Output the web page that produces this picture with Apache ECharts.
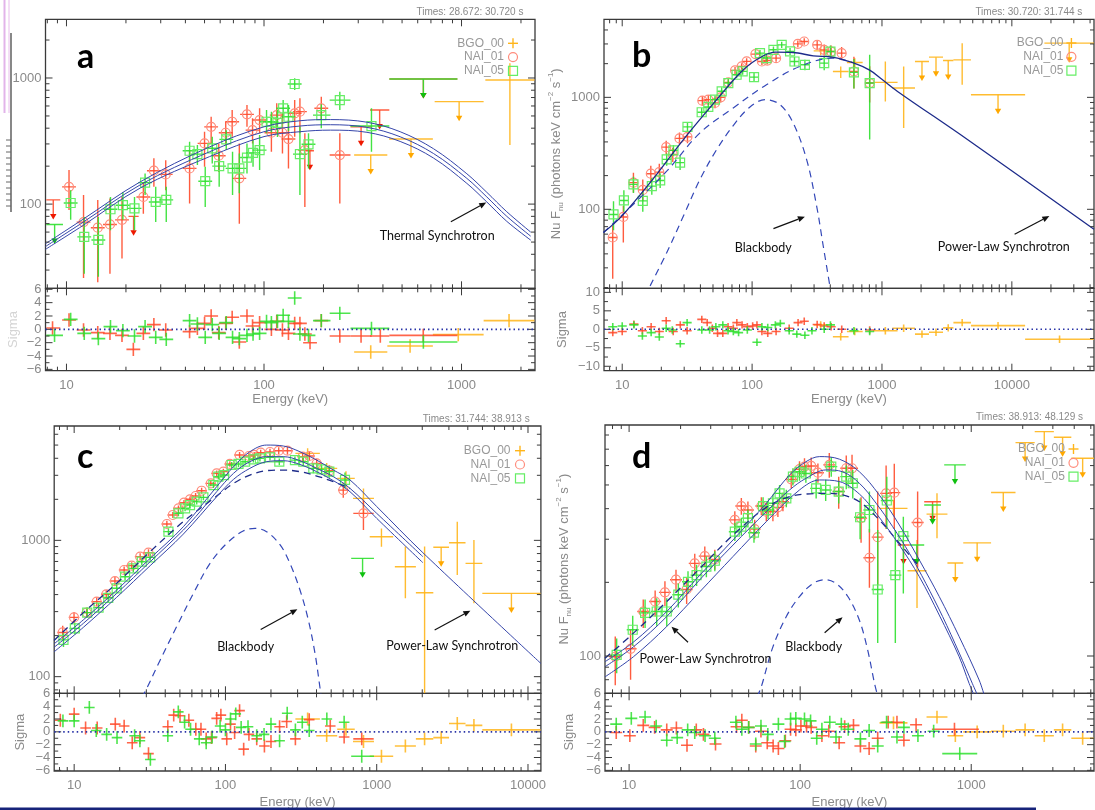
<!DOCTYPE html>
<html><head><meta charset="utf-8">
<script src="https://cdn.jsdelivr.net/npm/echarts@6/dist/echarts.min.js"></script>
<style>html,body{margin:0;padding:0;background:#fff}#c{width:1095px;height:810px}</style>
</head><body><div id="c"></div>
<script>
// ================= DATA =================
// NaI points: [E keV, NuFnu, lower, upper, (Elo, Ehi)]; BGO points: [Elo, Ehi, NuFnu, lower, upper]
// upper limits: [Elo, Ehi, NuFnu]; residuals NaI: [E, sigma, (Elo, Ehi)]; residuals BGO: [Elo, Ehi, sigma]
const NAI_BIN_HALF_DEX = 0.035;
const LEGEND_LABELS = ['BGO_00', 'NAI_01', 'NAI_05'];
const RES_LABELS_6 = [-6, -4, -2, 0, 2, 4, 6];
const RES_LABELS_10 = [-10, -5, 0, 5, 10];

// ---- panel a ----
const A_TIMES = 'Times: 28.672: 30.720 s';
const A_N01 = [[10.3,137,90,186],[12.2,72,26,118],[14.4,65,24,108],[16.6,69,28,111],[19.1,75,37,114],[24.5,114,84,150],[27.7,184,137,231],[31.8,172,129,223],[42,192,101,268],[50,303,198,375],[54,410,303,493],[59,242,180,303],[64,368,294,450],[69,450,342,557],[75,160,70,303],[82,515,410,611],[87.5,386,303,479],[95,464,364,575],[109,368,260,493],[116,508,386,631],[124,368,252,525],[133,328,192,464],[143,525,342,668],[152,541,364,690],[161,268,95,364],[195,575,464,711],[242,245,101,364,215,274]];
const A_N01_UL = [[7.9,9.3,108],[20.6,23.2,80],[163,179,265],[274,351,410],[344,431,557],[431,953,982]];
const A_N05 = [[10.5,102,75,129],[12.3,55,28,79],[14.5,52,26.5,79],[16.7,91,62,114],[19.3,98,75,125],[22.1,92.5,62,114],[25,148,118,175],[28.3,104,72,137],[32,108,72,137],[42,265,217,312],[46,249,204,294],[50.4,152,95,198],[54.7,277,210,342],[59.3,200,137,260],[64.4,326,268,386],[69.3,192,118,260],[75,192,122,252],[82,234,175,303],[88,255,198,322],[95,268,186,353],[103,450,364,557],[109,450,370,540],[117,441,340,560],[125,575,479,668],[133,493,380,610],[143,896,803,994],[152,249,118,410],[168,298,192,364],[195,508,400,620,177,217],[242,668,557,778,215,274],[350,416,260,575,274,431]];
const A_N05_UL = [[7.9,9.6,69],[431,953,982]];
const A_BGO = [[1320,2340,964,294,1310]];
const A_BGO_UL = [[286,421,245],[430,716,328],[731,1294,649]];
const A_R01 = [[8.5,0.2,7.9,9.3],[10.3,1.4],[12.2,-0.1],[14.4,-0.5],[16.6,-0.6],[19.1,-0.9],[21.8,-3.0],[24.5,-0.6],[27.7,0.7],[31.8,-0.1],[42,-0.35],[46,0.15],[50,0.9],[54,2.0],[59,-0.5],[64,0.9],[69,1.8],[75,-1.9],[82,2.0],[87.5,0.5],[95,1.0],[109,0],[116,1.2],[124,-0.1],[133,-0.6],[143,0.9],[152,0.9],[161,-0.7],[171,-2.0],[195,1.3],[242,-1.0,215,274],[310,-1.0,274,351],[388,-1.0,344,431],[640,-0.9,431,953]];
const A_R05 = [[8.7,-0.9,7.9,9.6],[10.5,1.5],[12.3,-0.6],[14.5,-1.4],[16.7,0.4],[19.3,-0.2],[22.1,-1.0],[25,0.4],[28.3,-1.2],[32,-1.5],[42,1.3],[46,0.8],[50.4,-1.2],[54.7,0.7],[59.3,-0.6],[64.4,1.0],[69.3,-1.2],[75,-1.4],[82,-0.9],[88,-0.7],[95,-0.6],[103,1.2],[109,1.0],[117,1.2],[125,2.1],[133,1.2],[143,4.7],[152,-0.7],[168,-0.9],[195,1.3,177,217],[242,2.4,215,274],[350,0.15,274,431],[641,-1.9,431,953]];
const A_RBGO = [[286,421,-3.4],[421,716,-2.5],[716,1294,-0.8],[1294,2340,1.3]];
const A_MODEL_UP = [[7.83,48.5],[12,75],[23.6,150],[53,284],[100,410],[152,458],[217,468],[332,446],[489,375],[721,275],[1064,174],[1343,124],[1695,87],[2240,60]];
const A_MODEL_MID = [[7.83,46.1],[12,71],[23.6,142],[53,260],[100,375],[152,416],[217,426],[332,406],[489,342],[721,252],[1064,160],[1343,114],[1695,80],[2240,55.7]];
const A_MODEL_LO = [[7.83,43.8],[12,67],[23.6,134],[53,238],[100,343],[152,375],[217,386],[332,371],[489,314],[721,232],[1064,146],[1343,104],[1695,73],[2240,51.8]];
const A_ANNOT = [{t:'Thermal Synchrotron', at:[753,55.7], from:[883,72.4], to:[1334,103]}];

// ---- panel b ----
const B_TIMES = 'Times: 30.720: 31.744 s';
const B_N01 = [[8.45,56,24,71],[10.2,85.5,50.6,107],[12.2,173,141,212],[14.4,149,119,185],[16.6,208,172,245],[19.3,215,180,255],[21.8,359,310,410],[24.5,309,265,355],[27.6,430,380,485],[31.8,444,390,500],[41.4,935,840,1030],[46,955,860,1050],[51.8,892,800,990],[57.3,1000,900,1100],[65.6,1361,1250,1480],[73.9,1742,1620,1870],[83.1,1891,1760,2020],[90.8,2094,1950,2240],[106,2434,2280,2590],[119,2091,1950,2240],[131,2133,1980,2290],[153,2239,2080,2400],[225,3005,2800,3220],[252,3155,2950,3370],[317,2946,2650,3250],[359,2656,2350,2970],[406,2566,2250,2900],[489,2483,2150,2820],[608,1702,1200,2300],[804,1342,900,1900]];
const B_N01_UL = [];
const B_N05 = [[8.57,90,65,118],[10.3,120,95,148],[12.2,167,140,195],[14.4,119,95,145],[16.9,161,135,190],[19.6,181,155,210],[22,279,245,315],[24.8,336,300,375],[27.9,261,225,300],[31.8,545,490,600],[40.9,736,670,805],[46,821,750,895],[51.8,955,875,1040],[58.3,1133,1040,1230],[65.6,1342,1240,1450],[76,1592,1480,1710],[84.6,1706,1590,1830],[103.5,1517,1390,1650],[115,2483,2320,2650],[129,2244,2090,2400],[146,2660,2490,2840],[169,2946,2760,3140],[196,2570,2390,2760],[212,2091,1900,2290],[255,1954,1750,2170],[359,2022,1750,2310],[401,2566,2250,2900],[608,1671,1200,2200],[804,1342,420,2400]];
const B_N05_UL = [];
const B_BGO = [[298,382,2600,2380,2820],[419,553,1702,1486,1888],[537,710,2051,1870,2230],[855,1318,1362,920,2089],[1202,1795,1211,533,1888],[3548,4842,2163,1297,3048]];
const B_BGO_UL = [[1795,2301,2090],[2301,2951,2286],[2951,3548,2133],[4842,12650,1056],[17800,42900,3048]];
const B_R01 = [[8.46,-0.9],[10,-0.6],[12.3,1.4],[14.3,-0.4],[16.7,0.7],[19.3,-0.6],[21.8,2.3],[24.7,-0.6],[28,1.2],[31.6,-0.4],[41,2.7],[45.1,1.8],[49.4,0.3],[54.2,-1.1],[59.5,-1.1],[65.3,0.7],[71.7,0.3],[76.3,1.8],[83.7,1.2],[91.9,0.7],[101,0.9],[109,1.2],[119,-0.6],[132,-1.1],[153,-0.6],[193,0.3],[226,1.8],[252,2.2],[317,1.3],[359,0.9],[406,0.7],[490,0],[804,-0.2]];
const B_R05 = [[8.46,0.7],[10,0.9],[12.3,1.2],[14.3,-1.8],[16.7,-0.9],[19.3,-2.1],[21.8,0.3],[24.3,-0.2],[28,-3.9],[31.6,1.8],[41,-0.2],[47.1,-0.2],[52.6,0.7],[59.5,1.2],[65.3,-0.4],[71.7,-0.6],[78.7,-0.9],[91.9,-0.2],[109,-3.5],[119,0.7],[132,0.5],[151,1.2],[165,1.6],[193,-0.4],[221,-1.3],[255,-1.6],[289,-0.4],[359,0],[401,1.2],[608,-0.4],[804,-0.6]];
const B_RBGO = [[298,382,1.2],[419,553,-2.0],[537,710,-0.6],[855,1318,-0.4],[1202,1795,0.3],[1795,2301,-1.3],[2301,2951,-0.8],[2951,3548,0.4],[3548,4842,1.8],[4842,12650,1.0],[12650,42900,-2.7]];
const B_MODEL_TOTAL = [[7.17,62],[9.93,87],[16.4,173],[29.6,420],[53.4,954],[80.8,1650],[108,2166],[150,2538],[207,2517],[296,2350],[422,2280],[589,2050],[804,1750],[998,1450],[1318,1130],[4550,420],[42850,66.4]];
const B_MODEL_PL = [[7.17,62],[12.2,111],[22,219],[39.7,482],[71.6,805],[129,1297],[233,1888],[422,2245],[589,2050]];
const B_MODEL_BB = [[16.4,20.7],[22,41],[29.6,87],[39.7,185],[53.4,342],[71.6,560],[96.3,821],[126,954],[164,861],[207,591],[263,278],[314,107],[353,47],[397,20.7]];
const B_ANNOT = [{t:'Blackbody', at:[122,45.6], from:[146,67.3], to:[255,86]},{t:'Power-Law Synchrotron', at:[8670,46.1], from:[10500,59.8], to:[19450,87]}];

// ---- panel c ----
const C_TIMES = 'Times: 31.744: 38.913 s';
const C_N01 = [[8.4,211,188,236],[9.98,272,248,298],[12.1,295,272,320],[14.1,355,330,382],[16.3,402,375,430],[18.6,503,470,538],[21.4,606,570,644],[24,652,615,690],[27.3,759,715,805],[31,812,765,860],[41,1318,1250,1390],[44.9,1535,1460,1615],[48.9,1718,1635,1805],[53.2,1889,1800,1980],[58.3,2000,1900,2100],[63.5,2115,2010,2225],[69.6,2312,2200,2430],[80,2616,2490,2750],[87.5,3099,2950,3250],[96.9,3190,3030,3350],[107,3634,3460,3810],[124,4230,4020,4440],[143,4156,3950,4370],[155,4230,4020,4440],[171,4397,4180,4620],[197,4446,4200,4700],[225,4546,4290,4810],[257,4546,4270,4830],[324,4110,3820,4400],[359,4156,3850,4460],[401,3673,3380,3970],[486,3246,2950,3550],[601,2337,2050,2650],[817,1578,1191,1977,700,955]];
const C_N01_UL = [];
const C_N05 = [[8.5,186,165,208],[10.1,226,204,249],[12.2,295,270,321],[14.5,321,296,347],[16.8,379,352,407],[19.1,445,415,476],[21.7,541,507,576],[24.6,623,585,662],[28,697,656,739],[31.8,750,707,795],[42,1158,1095,1222],[48.9,1579,1500,1660],[54.1,1718,1635,1805],[58.3,1816,1725,1910],[64.6,1923,1830,2020],[71.5,2067,1965,2170],[83.2,2545,2420,2675],[89.8,2931,2790,3075],[97.9,3013,2865,3165],[110,3572,3400,3750],[122,3634,3455,3815],[135,3776,3590,3965],[153,3930,3730,4130],[169,3993,3790,4200],[197,4066,3850,4280],[227,3776,3560,3990],[288,3880,3640,4120],[327,3776,3520,4030],[381,3373,3110,3640],[432,3319,3030,3610],[486,3190,2880,3500],[617,2773,2400,3150]];
const C_N05_UL = [[678,959,738]];
const C_BGO = [[290,421,4346,3990,4730],[398,548,3373,3080,3690],[548,716,2850,2480,3210],[697,959,2032,1578,2404],[899,1285,1064,899,1224],[1318,1815,641,376,900],[1815,2366,413,60,900],[3006,3864,961,557,1371],[3864,4990,678,345,1005]];
const C_BGO_UL = [[2366,3006,889],[4990,12100,408]];
const C_R01 = [[8.1,1.8],[10,2.75],[11.9,0.6],[14.2,0.6],[18.7,1.2],[21.4,0.9],[24.2,-1.7],[27.2,-0.9],[31,-3.4],[41.6,0.8],[45.5,2.6],[50.1,2.5],[57.3,1.8],[63.7,0.4],[68.9,0.4],[74.6,-1.1],[80.9,-0.9],[87.5,2.1],[93.3,2.6],[102,-1.1],[108,1.2],[115,-0.1],[124,3.3],[132,-2.7],[143,-0.4],[161,-1.1],[181,-2.2],[200,-1.5],[228,0.8],[254,1.6],[290,-1.1],[358,1.9],[493,0.9],[609,-0.8],[796,-1.1,700,955]];
const C_R05 = [[8.43,1.7],[10,1.7],[12.6,3.8],[14,0.2],[16.4,-0.4],[19.2,-0.9],[25.1,-0.6],[27.2,-1.4],[31.9,-4.3],[41.6,-0.6],[48.8,3.1],[53.7,1.5],[58.8,0.4],[67.1,-1.1],[74.6,-1.7],[81.7,-0.8],[92.2,0.9],[100,0.3],[108,2.0],[117,2.8],[127,0.7],[141,0.8],[161,-0.6],[180,-0.4],[200,1.2],[228,-1.4],[256,2.9],[290,0.3],[322,1.5],[358,0.2],[468,2.0],[609,1.5],[796,-3.8,678,959]];
const C_RBGO = [[290,421,2.0],[398,548,-0.6],[548,716,0.4],[697,959,-1.5],[899,1285,-3.8],[1318,1815,-2.2],[1815,2366,-1.1],[2366,3006,-0.9],[3006,3864,1.3],[3864,4990,1.0],[4990,12100,0.3]];
const C_MODEL_UP = [[7.36,174],[11.5,261],[19.1,432],[31.8,738],[52.7,1259],[87.5,2476],[113,3470],[145,4467],[187,5000],[242,4920],[311,4467],[401,3880],[517,3280],[666,2773],[1000,1770],[2018,812],[12170,125]];
const C_MODEL_MID = [[7.36,164],[11.5,246],[19.1,408],[31.8,697],[52.7,1190],[67.9,1622],[87.5,2274],[113,3100],[145,3776],[187,4110],[242,4110],[311,3840],[401,3373],[517,2930],[666,2406],[1000,1578],[2018,759]];
const C_MODEL_LO = [[7.36,152],[11.5,230],[19.1,382],[31.8,652],[52.7,1112],[87.5,2089],[113,2800],[145,3373],[187,3776],[242,3840],[311,3606],[401,3190],[517,2740],[666,2274],[1000,1450],[2018,686]];
const C_MODEL_PL = [[7.36,184],[11.5,295],[19.1,484],[31.8,827],[52.7,1372],[87.5,2113],[113,2616],[145,3013],[187,3246],[242,3280],[311,3190],[401,2965],[517,2693],[666,2406]];
const C_MODEL_BB = [[28,70],[30.2,82],[37,132],[47.6,233],[61.4,408],[79.1,678],[102,950],[131,1170],[157,1225],[187,1158],[230,925],[267,678],[311,432],[353,261],[391,148],[418,89],[430,70]];
const C_ANNOT = [{t:'Blackbody', at:[136,166], from:[171,222], to:[299,312]},{t:'Power-Law Synchrotron', at:[3162,168], from:[2415,220], to:[4160,305]}];

// ---- panel d ----
const D_TIMES = 'Times: 38.913: 48.129 s';
const D_N01 = [[8.3,99.3,76,120],[10.2,107,80,128],[12.1,152,130,170],[14.2,167,145,185],[16.2,182,160,202],[18.8,205,183,225],[21.7,187,163,210],[24.2,239,215,262],[27.7,256,232,280],[31.7,248,225,272],[41.5,360,330,390],[45.3,410,378,442],[49.5,395,362,428],[54.2,330,300,360],[59.3,410,376,445],[63.4,389,355,423],[69.3,389,355,423],[74.1,405,370,440],[79.3,427,390,465],[88.7,527,485,570],[99.1,580,535,625],[106,594,545,643],[116,598,548,648],[127,561,510,612],[148,604,535,675],[168,470,400,540],[186,585,510,660],[201,585,505,665],[227,366,290,445],[254,252,190,330],[284,306,195,470],[318,462,330,600],[355,465,330,610],[486,351,230,470]];
const D_N01_UL = [[372,435,284],[531,665,427]];
const D_N05 = [[8.46,101,85,118],[10.5,128,110,146],[12.4,150,130,170],[14.5,152,133,172],[16.6,152,132,172],[19.4,178,158,198],[22.1,201,180,222],[24.8,214,193,236],[28.3,232,210,255],[31.7,245,222,268],[41.5,322,295,350],[45.3,338,310,367],[49.5,366,335,397],[53.7,319,290,348],[60.7,410,376,445],[64.9,395,362,428],[69.3,421,385,457],[75.8,462,425,500],[83,441,405,478],[90.7,541,498,585],[99.1,566,520,612],[108,557,510,605],[124,484,440,530],[141,477,430,525],[152,594,540,650],[168,470,420,520],[186,541,480,600],[203,508,440,575],[224,369,300,440],[254,395,320,470],[284,187,113,327],[321,432,330,540],[360,214,113,327],[401,309,180,371]];
const D_N05_UL = [[435,531,284],[531,665,414],[695,929,604]];
const D_BGO = [[291,424,401,377,434],[424,548,223,157,298],[548,726,380,303,462]];
const D_BGO_UL = [[726,898,240],[898,1306,290],[1306,1815,466],[1815,2350,745],[2350,3041,826],[3041,3846,783],[3846,5220,643]];
const D_R01 = [[8.41,-0.1],[10.1,-0.6],[12.1,1.0],[14.1,0.7],[16.6,0.3],[18.9,0.6],[21.8,-2.1],[24.7,0.3],[27.2,-0.4],[32,-1.9],[42.5,0.8],[45.6,1.8],[50,0.7],[55,-2.2],[59,0.1],[64.2,-1.7],[69.5,-2.2],[74.6,-2.6],[81.9,-1.4],[87.9,0.4],[94.3,0.3],[101,0.9],[109,0.9],[116,0.7],[134,-0.6],[147,0.1],[169,-1.7],[182,0.8],[205,1.0],[225,-2.2],[253,-2.6],[284,-1.0],[327,1.5],[368,1.5],[404,-1.3],[476,1.1],[798,0.4,589,1109]];
const D_R05 = [[8.41,1.2],[10.3,2.1],[12.4,2.3],[14.4,0.9],[16.6,-1.3],[19.1,-0.9],[22,0.3],[24.2,-0.1],[27.8,-0.6],[31.7,-1.0],[42.1,1.5],[45.6,0.4],[50,0.7],[55,-1.9],[59,0.9],[64.7,-0.4],[74.6,1.2],[81.1,-1.5],[87.9,2.0],[94.3,2.1],[106,2.0],[115,1.7],[125,-1.0],[134,0.4],[149,1.5],[162,-0.8],[174,1.2],[191,0.4],[225,-1.1],[253,0.2],[284,-2.2],[320,1.5],[368,-0.8],[404,0.7],[488,-0.6],[603,0.1],[857,-3.4,677,1084]];
const D_RBGO = [[291,424,1.4],[548,726,2.3],[726,898,-0.6],[898,1306,0],[1306,1815,0.1],[1815,2350,0.3],[2350,3041,-0.6],[3041,3846,0.3],[3846,5220,-1.0]];
const D_MODEL_UP = [[7.23,94.8],[10.6,114],[16.6,152],[25.9,214],[40.5,298],[63.4,421],[86.7,549],[108,622],[130,653],[170,637],[222,566],[290,455],[380,343],[497,247],[650,175],[850,120],[1112,79.8],[1200,68]];
const D_MODEL_MID = [[7.23,90.4],[10.6,109],[16.6,145],[25.9,205],[40.5,284],[63.4,389],[86.7,477],[108,532],[142,576],[177,566],[222,508],[278,421],[347,338],[435,263],[543,198],[680,145],[850,103],[1017,77],[1100,68]];
const D_MODEL_LO = [[7.23,82.2],[10.6,99.3],[16.6,132],[25.9,183],[40.5,255],[63.4,354],[99.1,477],[130,524],[170,516],[222,459],[278,383],[380,284],[497,211],[650,147],[850,99.3],[972,77.3],[1050,68]];
const D_MODEL_PL = [[7.23,97.8],[10.6,124],[16.6,167],[25.9,228],[40.5,312],[63.4,405],[86.7,448],[108,459],[142,462],[177,455],[222,427],[290,360],[380,289],[497,232]];
const D_MODEL_BB = [[56,68],[59.3,75],[69.3,109],[83,145],[99.1,175],[119,198],[139,205],[162,198],[190,175],[222,140],[248,106],[272,77.3],[285,68]];
const D_ANNOT = [{t:'Blackbody', at:[120,109], from:[139,124.5], to:[177,144]},{t:'Power-Law Synchrotron', at:[28,96.9], from:[22.1,113.8], to:[17.7,131.8]}];

// ================= LAYOUT / STYLE =================
const COL = {
  n01Line:'#ff4a2a', n01Mark:'#ff8c7c', n01Tri:'#ee1800',
  n05Line:'#2fe02f', n05Mark:'#66ee66', n05Tri:'#0fc00f',
  bgoLine:'#ffb51a', bgoTri:'#ffa800',
  model:'#3545aa', modelDark:'#1d2b8a', bb:'#3448b8',
  axis:'#3a3a3a', text:'#8a8a8a', zero:'#2a34a8'
};
const FONT = '"Liberation Sans", Arial, sans-serif';
const TICK_MAJ = 7, TICK_MIN = 4;
const LAYOUT = {
  a:{main:{left:45.5,top:19.3,width:489.5,height:269}, res:{left:45.5,top:288.3,width:489.5,height:82.4}},
  b:{main:{left:604,top:19.3,width:490,height:269}, res:{left:604,top:288.3,width:490,height:82.4}},
  c:{main:{left:54.2,top:426,width:486.7,height:267.3}, res:{left:54.2,top:693.3,width:486.7,height:82.7}},
  d:{main:{left:605,top:425,width:489,height:268.3}, res:{left:605,top:693.3,width:489,height:82.7}}
};
const RANGES = {
  a:{x:[7.83,2355], y:[21.5,2920], r:[-6.2,6.15], rl:RES_LABELS_6, rmin:[-5,-3,-1,1,3,5]},
  b:{x:[7.24,42900], y:[19.7,4980], r:[-11.2,11.1], rl:RES_LABELS_10, rmin:[-7.5,-2.5,2.5,7.5]},
  c:{x:[7.38,12170], y:[75.5,6900], r:[-6.1,6.0], rl:RES_LABELS_6, rmin:[-5,-3,-1,1,3,5]},
  d:{x:[7.23,5220], y:[70.4,879], r:[-6.1,6.0], rl:RES_LABELS_6, rmin:[-5,-3,-1,1,3,5]}
};
const DECOR = {
  a:{times:A_TIMES, tx:523.4, ty:12.7, letter:'a', lx:77, ly:57, leg:{tx:504, mx:513, y:43.3}, yName:false, yGap:0, sGap:26, sCol:'#d4d4d4', eGap:22},
  b:{times:B_TIMES, tx:1082.3, ty:12.7, letter:'b', lx:632, ly:56, leg:{tx:1063.4, mx:1071.4, y:43}, yName:true, yGap:39, sGap:35, sCol:COL.text, eGap:22},
  c:{times:C_TIMES, tx:529.7, ty:419.3, letter:'c', lx:77, ly:457, leg:{tx:510.5, mx:520, y:450.7}, yName:false, yGap:0, sGap:27, sCol:COL.text, eGap:25},
  d:{times:D_TIMES, tx:1083, ty:417.7, letter:'d', lx:632, ly:457, leg:{tx:1064.8, mx:1073.5, y:449}, yName:true, yGap:32, sGap:29, sCol:COL.text, eGap:25}
};
const DATA = {
  a:{n01:A_N01,n01ul:A_N01_UL,n05:A_N05,n05ul:A_N05_UL,bgo:A_BGO,bgoul:A_BGO_UL,r01:A_R01,r05:A_R05,rbgo:A_RBGO,annot:A_ANNOT,
     curves:[{d:A_MODEL_UP,c:COL.model,w:1},{d:A_MODEL_MID,c:COL.model,w:1},{d:A_MODEL_LO,c:COL.model,w:1}]},
  b:{n01:B_N01,n01ul:B_N01_UL,n05:B_N05,n05ul:B_N05_UL,bgo:B_BGO,bgoul:B_BGO_UL,r01:B_R01,r05:B_R05,rbgo:B_RBGO,annot:B_ANNOT,
     curves:[{d:B_MODEL_BB,c:COL.bb,w:1.2,dash:true},{d:B_MODEL_PL,c:COL.bb,w:1.2,dash:true},{d:B_MODEL_TOTAL,c:COL.modelDark,w:1.3}]},
  c:{n01:C_N01,n01ul:C_N01_UL,n05:C_N05,n05ul:C_N05_UL,bgo:C_BGO,bgoul:C_BGO_UL,r01:C_R01,r05:C_R05,rbgo:C_RBGO,annot:C_ANNOT,
     curves:[{d:C_MODEL_BB,c:COL.bb,w:1.2,dash:true},{d:C_MODEL_PL,c:COL.modelDark,w:1.3,dash:true},{d:C_MODEL_UP,c:COL.model,w:1},{d:C_MODEL_MID,c:COL.model,w:1},{d:C_MODEL_LO,c:COL.model,w:1}]},
  d:{n01:D_N01,n01ul:D_N01_UL,n05:D_N05,n05ul:D_N05_UL,bgo:D_BGO,bgoul:D_BGO_UL,r01:D_R01,r05:D_R05,rbgo:D_RBGO,annot:D_ANNOT,
     curves:[{d:D_MODEL_BB,c:COL.bb,w:1.2,dash:true},{d:D_MODEL_PL,c:COL.modelDark,w:1.3,dash:true},{d:D_MODEL_UP,c:COL.model,w:1},{d:D_MODEL_MID,c:COL.model,w:1},{d:D_MODEL_LO,c:COL.model,w:1}]}
};

// ================= HELPERS =================
const HF = Math.pow(10, NAI_BIN_HALF_DEX);
const naiPts = arr => arr.map(d => ({E:d[0], F:d[1], lo:d[2], hi:d[3], el:d[4] || d[0]/HF, eh:d[5] || d[0]*HF}));
const bgoPts = arr => arr.map(d => ({E:Math.sqrt(d[0]*d[1]), F:d[2], lo:d[3], hi:d[4], el:d[0], eh:d[1]}));
const ulPts = arr => arr.map(d => ({E:Math.sqrt(d[0]*d[1]), F:d[2], el:d[0], eh:d[1]}));
const naiRes = arr => arr.map(d => ({E:d[0], s:d[1], el:d[2] || d[0]/HF, eh:d[3] || d[0]*HF}));
const bgoRes = arr => arr.map(d => ({E:Math.sqrt(d[0]*d[1]), s:d[2], el:d[0], eh:d[1]}));
const clipOf = params => { const c = params.coordSys; return {type:'rect', shape:{x:c.x, y:c.y, width:c.width, height:c.height}}; };

function logTicks(r){
  const maj = [], mn = [];
  for (let e = -1; e < 6; e++) for (let m = 1; m < 10; m++) {
    const v = m * Math.pow(10, e);
    if (v >= r[0] && v <= r[1]) (m === 1 ? maj : mn).push(v);
  }
  return {maj, mn};
}

function pointSeries(name, gi, pts, lineColor, markColor, marker){
  return {
    name, type:'custom', xAxisIndex:gi, yAxisIndex:gi, z:3, clip:true, silent:true,
    itemStyle:{color:lineColor},
    data: pts.map(p => [p.E, p.F]),
    renderItem: (params, api) => {
      const p = pts[params.dataIndex];
      const c = api.coord([p.E, p.F]);
      const yl = api.coord([p.E, p.lo])[1], yh = api.coord([p.E, p.hi])[1];
      const xl = api.coord([p.el, p.F])[0], xr = api.coord([p.eh, p.F])[0];
      const st = {stroke:lineColor, lineWidth:1.4, opacity:0.9};
      const ch = [
        {type:'line', shape:{x1:xl, y1:c[1], x2:xr, y2:c[1]}, style:st},
        {type:'line', shape:{x1:c[0], y1:yl, x2:c[0], y2:yh}, style:st}
      ];
      if (marker === 'circle') ch.push({type:'circle', shape:{cx:c[0], cy:c[1], r:4.5}, style:{fill:'none', stroke:markColor, lineWidth:1.2}});
      if (marker === 'square') ch.push({type:'rect', shape:{x:c[0]-4.5, y:c[1]-4.5, width:9, height:9}, style:{fill:'none', stroke:markColor, lineWidth:1.2}});
      return {type:'group', children:ch, clipPath:clipOf(params)};
    }
  };
}

function ulSeries(name, gi, pts, lineColor, triColor){
  return {
    name, type:'custom', xAxisIndex:gi, yAxisIndex:gi, z:3, clip:true, silent:true,
    itemStyle:{color:lineColor},
    data: pts.map(p => [p.E, p.F]),
    renderItem: (params, api) => {
      const p = pts[params.dataIndex];
      const c = api.coord([p.E, p.F]);
      const xl = api.coord([p.el, p.F])[0], xr = api.coord([p.eh, p.F])[0];
      const st = {stroke:lineColor, lineWidth:1.4, opacity:0.9};
      return {type:'group', clipPath:clipOf(params), children:[
        {type:'line', shape:{x1:xl, y1:c[1], x2:xr, y2:c[1]}, style:st},
        {type:'line', shape:{x1:c[0], y1:c[1], x2:c[0], y2:c[1]+15}, style:st},
        {type:'polygon', shape:{points:[[c[0]-3.2, c[1]+14], [c[0]+3.2, c[1]+14], [c[0], c[1]+19.5]]}, style:{fill:triColor}}
      ]};
    }
  };
}

function resSeries(name, gi, pts, color){
  return {
    name, type:'custom', xAxisIndex:gi, yAxisIndex:gi, z:3, clip:true, silent:true,
    itemStyle:{color},
    data: pts.map(p => [p.E, p.s]),
    renderItem: (params, api) => {
      const p = pts[params.dataIndex];
      const c = api.coord([p.E, p.s]);
      const yl = api.coord([p.E, p.s-1])[1], yh = api.coord([p.E, p.s+1])[1];
      const xl = api.coord([p.el, p.s])[0], xr = api.coord([p.eh, p.s])[0];
      const st = {stroke:color, lineWidth:1.6, opacity:0.85};
      return {type:'group', clipPath:clipOf(params), children:[
        {type:'line', shape:{x1:xl, y1:c[1], x2:xr, y2:c[1]}, style:st},
        {type:'line', shape:{x1:c[0], y1:yl, x2:c[0], y2:yh}, style:st}
      ]};
    }
  };
}

function tickSeries(gi, xr, yr, ylog, yMaj, yMin, zero){
  const xt = logTicks(xr);
  const yt = ylog ? logTicks(yr) : {maj:yMaj, mn:yMin};
  const yA = ylog ? yr[0] : 0;
  return {
    type:'custom', xAxisIndex:gi, yAxisIndex:gi, silent:true, z:6,
    data:[[xr[0], yA]],
    renderItem: (params, api) => {
      const cs = params.coordSys, ch = [];
      const st = {stroke:COL.axis, lineWidth:1};
      const L = (x1,y1,x2,y2) => ch.push({type:'line', shape:{x1,y1,x2,y2}, style:st});
      const top = cs.y, bot = cs.y + cs.height, lef = cs.x, rig = cs.x + cs.width;
      [[xt.maj, TICK_MAJ], [xt.mn, TICK_MIN]].forEach(([arr, len]) => arr.forEach(v => {
        const x = api.coord([v, yA])[0]; L(x, bot, x, bot-len); L(x, top, x, top+len);
      }));
      [[yt.maj, TICK_MAJ], [yt.mn, TICK_MIN]].forEach(([arr, len]) => arr.forEach(v => {
        const y = api.coord([xr[0], v])[1]; L(lef, y, lef+len, y); L(rig, y, rig-len, y);
      }));
      if (zero) {
        const y = api.coord([xr[0], 0])[1];
        ch.push({type:'line', shape:{x1:lef, y1:y, x2:rig, y2:y}, style:{stroke:COL.zero, lineWidth:1.6, lineDash:[1.5,3]}});
      }
      return {type:'group', children:ch};
    }
  };
}

function annotSeries(gi, ann){
  return {
    type:'custom', xAxisIndex:gi, yAxisIndex:gi, silent:true, z:7,
    data: ann.map(a => a.at),
    renderItem: (params, api) => {
      const a = ann[params.dataIndex];
      const p = api.coord(a.at), f = api.coord(a.from), t = api.coord(a.to);
      const ang = Math.atan2(t[1]-f[1], t[0]-f[0]);
      const HL = 7, HW = 3;
      const bx = t[0] - HL*Math.cos(ang), by = t[1] - HL*Math.sin(ang);
      const nx = -Math.sin(ang)*HW, ny = Math.cos(ang)*HW;
      return {type:'group', children:[
        {type:'line', shape:{x1:f[0], y1:f[1], x2:bx, y2:by}, style:{stroke:'#111', lineWidth:1.2}},
        {type:'polygon', shape:{points:[[t[0], t[1]], [bx+nx, by+ny], [bx-nx, by-ny]]}, style:{fill:'#111'}},
        {type:'text', x:p[0], y:p[1], style:{text:a.t, fill:'#111', fontSize:12.5, fontFamily:'Lato', align:'center', verticalAlign:'middle', textAlign:'center', textVerticalAlign:'middle'}}
      ]};
    }
  };
}

// ================= BUILD =================
const grid = [], xAxis = [], yAxis = [], series = [], graphic = [];
const labelStyle = {color:COL.text, fontSize:13, fontFamily:FONT};
const resFmt = v => v < 0 ? '\u2212' + Math.abs(v) : String(v);

['a','b','c','d'].forEach((k, p) => {
  const L = LAYOUT[k], R = RANGES[k], D = DATA[k], X = DECOR[k];
  const gm = p*2, gr = p*2 + 1;
  const gstyle = {show:true, borderColor:COL.axis, borderWidth:1.3, backgroundColor:'transparent'};
  grid.push(Object.assign({}, L.main, gstyle));
  grid.push(Object.assign({}, L.res, gstyle));

  xAxis.push({type:'log', gridIndex:gm, min:R.x[0], max:R.x[1], axisLine:{show:false}, axisTick:{show:false}, axisLabel:{show:false}, splitLine:{show:false}});
  xAxis.push({type:'log', gridIndex:gr, min:R.x[0], max:R.x[1], axisLine:{show:false}, axisTick:{show:false}, splitLine:{show:false},
    axisLabel:Object.assign({show:true, margin:8, showMinLabel:false, showMaxLabel:false, formatter:v => String(Math.round(v))}, labelStyle),
    name:'Energy (keV)', nameLocation:'middle', nameGap:X.eGap, nameTextStyle:labelStyle});

  const ymain = {type:'log', gridIndex:gm, min:R.y[0], max:R.y[1], axisLine:{show:false}, axisTick:{show:false}, splitLine:{show:false},
    axisLabel:Object.assign({show:true, margin:4, showMinLabel:false, showMaxLabel:false, formatter:v => String(Math.round(v))}, labelStyle)};
  if (X.yName) {
    Object.assign(ymain, {
      name:'{n|Nu F}{s|nu}{n| (photons keV cm}{p|\u22122}{n| s}{p|\u22121}{n|)}',
      nameLocation:'middle', nameGap:X.yGap, nameRotate:90,
      nameTextStyle:{color:COL.text, fontSize:13, fontFamily:FONT, rich:{
        n:{color:COL.text, fontSize:13, fontFamily:FONT, lineHeight:18},
        s:{color:COL.text, fontSize:8, fontFamily:FONT, lineHeight:9, verticalAlign:'bottom'},
        p:{color:COL.text, fontSize:8, fontFamily:FONT, lineHeight:9, verticalAlign:'top'}
      }}
    });
  }
  yAxis.push(ymain);
  yAxis.push({type:'value', gridIndex:gr, min:R.r[0], max:R.r[1], axisLine:{show:false}, axisTick:{show:false}, splitLine:{show:false},
    axisLabel:Object.assign({show:true, margin:4, customValues:R.rl, formatter:resFmt}, labelStyle),
    name:'Sigma', nameLocation:'middle', nameGap:X.sGap, nameRotate:90, nameTextStyle:Object.assign({}, labelStyle, {color:X.sCol})});

  // data marks
  series.push(pointSeries('BGO_00', gm, bgoPts(D.bgo), COL.bgoLine, COL.bgoLine, 'none'));
  series.push(ulSeries('BGO_00', gm, ulPts(D.bgoul), COL.bgoLine, COL.bgoTri));
  series.push(pointSeries('NAI_01', gm, naiPts(D.n01), COL.n01Line, COL.n01Mark, 'circle'));
  series.push(ulSeries('NAI_01', gm, ulPts(D.n01ul), COL.n01Line, COL.n01Tri));
  series.push(pointSeries('NAI_05', gm, naiPts(D.n05), COL.n05Line, COL.n05Mark, 'square'));
  series.push(ulSeries('NAI_05', gm, ulPts(D.n05ul), COL.n05Line, COL.n05Tri));
  D.curves.forEach(cv => series.push({type:'line', xAxisIndex:gm, yAxisIndex:gm, data:cv.d, showSymbol:false, symbol:'none', smooth:0.35, silent:true, z:4,
    lineStyle:{color:cv.c, width:cv.w, type:cv.dash ? [7,5] : 'solid'}}));
  series.push(annotSeries(gm, D.annot));
  series.push(tickSeries(gm, R.x, R.y, true));
  // residuals
  series.push(resSeries('BGO_00', gr, bgoRes(D.rbgo), COL.bgoLine));
  series.push(resSeries('NAI_01', gr, naiRes(D.r01), COL.n01Line));
  series.push(resSeries('NAI_05', gr, naiRes(D.r05), COL.n05Line));
  series.push(tickSeries(gr, R.x, R.r, false, R.rl, R.rmin, true));

  // decorations
  graphic.push({type:'text', z:100, x:X.tx, y:X.ty, style:{text:X.times, fill:COL.text, font:'10px ' + FONT, align:'right', verticalAlign:'middle', textAlign:'right', textVerticalAlign:'middle'}});
  graphic.push({type:'text', z:100, x:X.lx, y:X.ly, style:{text:X.letter, fill:'#000', font:'bold 34px Lato', align:'left', verticalAlign:'middle', textAlign:'left', textVerticalAlign:'middle'}});
  const lg = X.leg, DY = 13.8;
  LEGEND_LABELS.forEach((lab, i) => {
    graphic.push({type:'text', z:100, x:lg.tx, y:lg.y + i*DY, style:{text:lab, fill:'#999', font:'12px ' + FONT, align:'right', verticalAlign:'middle', textAlign:'right', textVerticalAlign:'middle'}});
  });
  const my0 = lg.y, my1 = lg.y + DY, my2 = lg.y + 2*DY;
  graphic.push({type:'line', z:100, shape:{x1:lg.mx-5, y1:my0, x2:lg.mx+5, y2:my0}, style:{stroke:COL.bgoLine, lineWidth:1.4}});
  graphic.push({type:'line', z:100, shape:{x1:lg.mx, y1:my0-5, x2:lg.mx, y2:my0+5}, style:{stroke:COL.bgoLine, lineWidth:1.4}});
  graphic.push({type:'circle', z:100, shape:{cx:lg.mx, cy:my1, r:4.5}, style:{fill:'none', stroke:COL.n01Mark, lineWidth:1.2}});
  graphic.push({type:'rect', z:100, shape:{x:lg.mx-4.5, y:my2-4.5, width:9, height:9}, style:{fill:'none', stroke:COL.n05Mark, lineWidth:1.2}});
});

// page artefacts: clipped ruler strip at far left, navy bar at bottom
graphic.push({type:'line', z:100, shape:{x1:4.5, y1:0, x2:4.5, y2:113}, style:{stroke:'#e2b4ea', lineWidth:2}});
graphic.push({type:'line', z:100, shape:{x1:9, y1:0, x2:9, y2:113}, style:{stroke:'#ecc8f0', lineWidth:1.2}});
graphic.push({type:'line', z:100, shape:{x1:11, y1:33, x2:11, y2:212}, style:{stroke:'#555', lineWidth:1.4}});
[140,146,152,158,164,170,176,182,188,194,200,206].forEach(yy => graphic.push({type:'line', z:100, shape:{x1:6, y1:yy, x2:11, y2:yy}, style:{stroke:'#666', lineWidth:1}}));
graphic.push({type:'rect', z:200, shape:{x:0, y:807.5, width:1036, height:2.5}, style:{fill:'#16237a'}});

const chart = echarts.init(document.getElementById('c'), null, {renderer:'canvas', width:1095, height:810});
chart.setOption({animation:false, backgroundColor:'#fff', grid, xAxis, yAxis, series, graphic});
</script></body></html>
